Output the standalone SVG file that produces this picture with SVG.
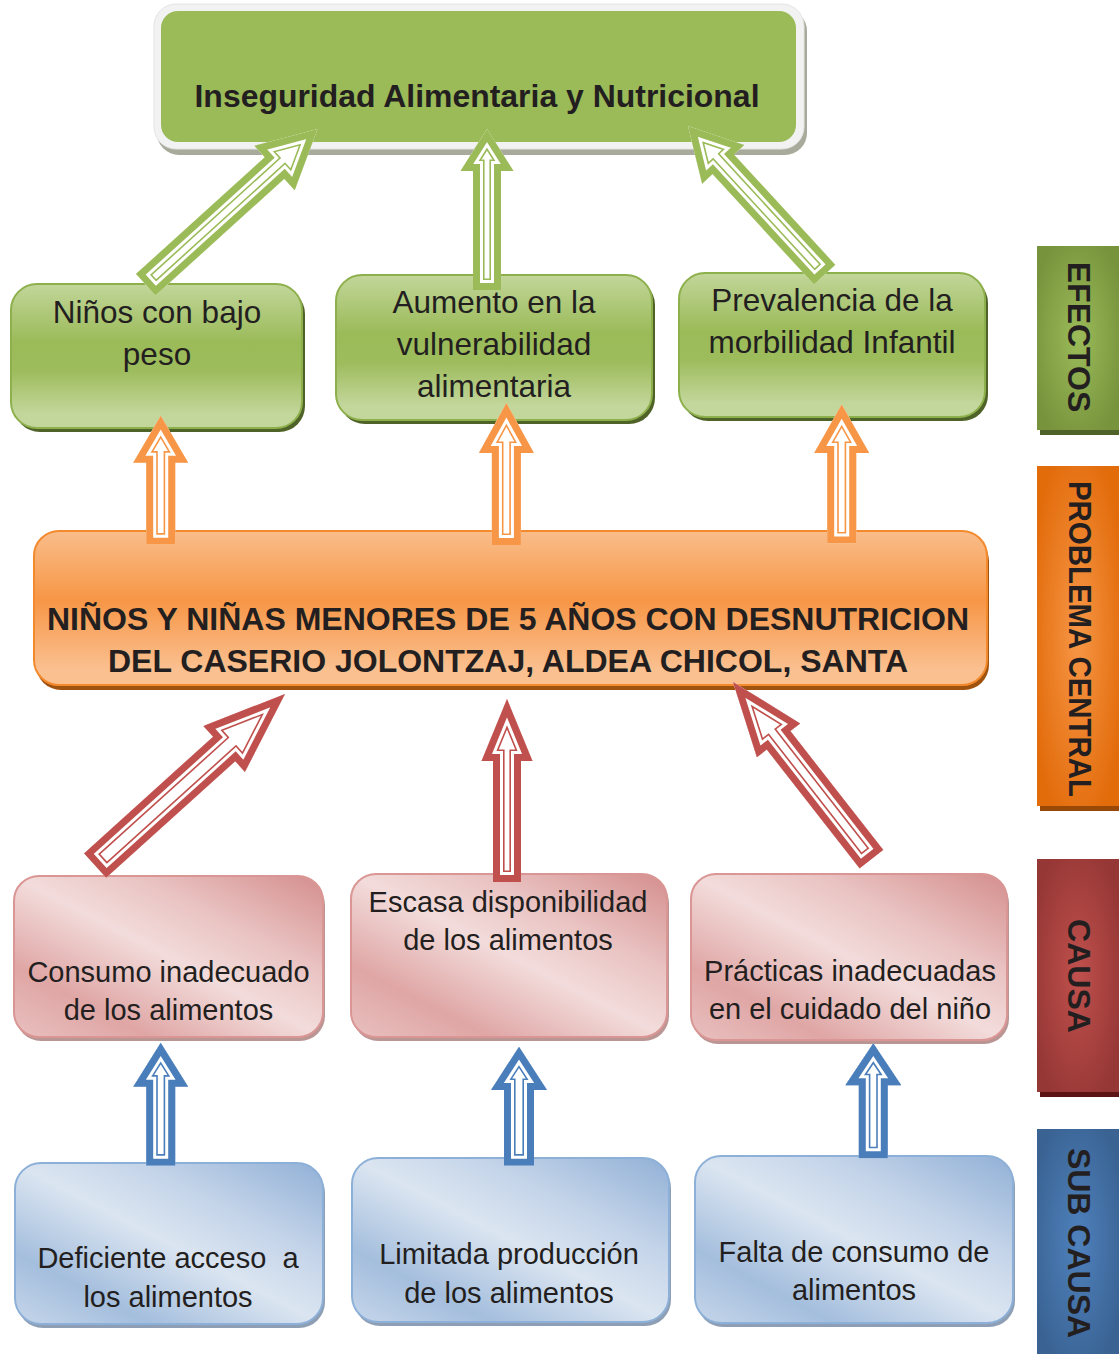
<svg xmlns="http://www.w3.org/2000/svg" xmlns:xlink="http://www.w3.org/1999/xlink" width="1119" height="1354" viewBox="0 0 1119 1354">
<style>
.t{font-family:"Liberation Sans",Arial,sans-serif;fill:#231f20;text-anchor:middle}
.g{font-size:31.5px}
.bold{font-weight:bold;font-size:32px}
.s{font-size:29px}
.a1{fill:#fff;stroke-width:23.2;stroke-miterlimit:10}
.a2{fill:none;stroke:#fff;stroke-width:20;stroke-miterlimit:10}
.a3{fill:none;stroke-width:14;stroke-miterlimit:10}
.cg{stroke:#9bbb59}
.co{stroke:#f79646}
.cr{stroke:#c0504d}
.cb{stroke:#4a7ebb}
</style>
<defs>
<linearGradient id="gG" x1="0" y1="0" x2="0" y2="1">
<stop offset="0" stop-color="#c2d69a"/><stop offset="0.4" stop-color="#9bbb59"/><stop offset="0.6" stop-color="#9dbc5c"/><stop offset="0.9" stop-color="#c3d69b"/><stop offset="1" stop-color="#c3d69b"/>
</linearGradient>
<linearGradient id="gO" x1="0" y1="0" x2="0" y2="1">
<stop offset="0" stop-color="#f9bd8a"/><stop offset="0.45" stop-color="#f79646"/><stop offset="0.6" stop-color="#f8a45f"/><stop offset="0.9" stop-color="#fac090"/><stop offset="1" stop-color="#fac090"/>
</linearGradient>
<linearGradient id="gR" x1="1" y1="0" x2="0" y2="1">
<stop offset="0" stop-color="#d48e8d"/><stop offset="0.3" stop-color="#e9c3c2"/><stop offset="0.5" stop-color="#f2dcdb"/><stop offset="0.78" stop-color="#dfa6a5"/><stop offset="1" stop-color="#e8c0bf"/>
</linearGradient>
<linearGradient id="gB" x1="1" y1="0" x2="0" y2="1">
<stop offset="0" stop-color="#91b0d6"/><stop offset="0.3" stop-color="#c4d4e9"/><stop offset="0.5" stop-color="#dbe5f1"/><stop offset="0.78" stop-color="#a4bedd"/><stop offset="1" stop-color="#c6d6ea"/>
</linearGradient>
<radialGradient id="sG" cx="0.5" cy="0.5" r="0.6"><stop offset="0" stop-color="#9bbb59"/><stop offset="1" stop-color="#77933c"/></radialGradient>
<radialGradient id="sO" cx="0.5" cy="0.5" r="0.6"><stop offset="0" stop-color="#f79646"/><stop offset="1" stop-color="#e26b0a"/></radialGradient>
<radialGradient id="sR" cx="0.5" cy="0.5" r="0.6"><stop offset="0" stop-color="#c0504d"/><stop offset="1" stop-color="#953735"/></radialGradient>
<radialGradient id="sB" cx="0.5" cy="0.5" r="0.6"><stop offset="0" stop-color="#4f81bd"/><stop offset="1" stop-color="#3a6393"/></radialGradient>

<path id="G1" d="M0,0 L30,58 L14.5,58 L14.5,232 L-14.5,232 L-14.5,58 L-30,58 Z"/>
<path id="G2" d="M0,0 L26.5,42 L14,42 L14,161 L-14,161 L-14,42 L-26.5,42 Z"/>
<path id="G3" d="M0,0 L28.6,52 L14.5,52 L14.5,202 L-14.5,202 L-14.5,52 L-28.6,52 Z"/>
<path id="O1" d="M0,0 L27.5,47 L14.5,47 L14.5,129 L-14.5,129 L-14.5,47 L-27.5,47 Z"/>
<path id="O2" d="M0,0 L27.5,50 L14.5,50 L14.5,142 L-14.5,142 L-14.5,50 L-27.5,50 Z"/>
<path id="O3" d="M0,0 L27.5,48.5 L14.5,48.5 L14.5,139 L-14.5,139 L-14.5,48.5 L-27.5,48.5 Z"/>
<path id="R1" d="M0,0 L31,82 L16.5,82 L16.5,256 L-16.5,256 L-16.5,82 L-31,82 Z"/>
<path id="R2" d="M0,0 L25.5,62 L14,62 L14,183 L-14,183 L-14,62 L-25.5,62 Z"/>
<path id="R3" d="M0,0 L27.5,74 L15,74 L15,225 L-15,225 L-15,74 L-27.5,74 Z"/>
<path id="B1" d="M0,0 L27.5,44 L14.5,44 L14.5,123 L-14.5,123 L-14.5,44 L-27.5,44 Z"/>
<path id="B2" d="M0,0 L28,43.3 L15,43.3 L15,119 L-15,119 L-15,43.3 L-28,43.3 Z"/>
<path id="B3" d="M0,0 L28,42 L14.5,42 L14.5,115 L-14.5,115 L-14.5,42 L-28,42 Z"/>
<clipPath id="cG1"><use href="#G1"/></clipPath>
<clipPath id="cG2"><use href="#G2"/></clipPath>
<clipPath id="cG3"><use href="#G3"/></clipPath>
<clipPath id="cO1"><use href="#O1"/></clipPath>
<clipPath id="cO2"><use href="#O2"/></clipPath>
<clipPath id="cO3"><use href="#O3"/></clipPath>
<clipPath id="cR1"><use href="#R1"/></clipPath>
<clipPath id="cR2"><use href="#R2"/></clipPath>
<clipPath id="cR3"><use href="#R3"/></clipPath>
<clipPath id="cB1"><use href="#B1"/></clipPath>
<clipPath id="cB2"><use href="#B2"/></clipPath>
<clipPath id="cB3"><use href="#B3"/></clipPath>
</defs>
<rect width="1119" height="1354" fill="#fff"/>

<g id="nodes">
<g id="top">
<rect x="157" y="9" width="650" height="146" rx="22" fill="#a8ab9b"/>
<rect x="154" y="4" width="650" height="145" rx="22" fill="#f2f2f2" stroke="#e4e4e4" stroke-width="1"/>
<rect x="161" y="11" width="635" height="131" rx="17" fill="#9bbb59"/>
<text class="t bold" x="477" y="107" textLength="565" lengthAdjust="spacingAndGlyphs">Inseguridad Alimentaria y Nutricional</text>
</g>

<g id="ef1">
<rect x="14" y="288" width="291" height="144" rx="26" fill="#4f6228"/>
<rect x="11" y="284" width="291" height="144" rx="26" fill="url(#gG)" stroke="#8db04c" stroke-width="2"/>
<text class="t g" x="157" y="323">Niños con bajo</text>
<text class="t g" x="157" y="365">peso</text>
</g>
<g id="ef2">
<rect x="339" y="279" width="316" height="145" rx="26" fill="#4f6228"/>
<rect x="336" y="275" width="316" height="145" rx="26" fill="url(#gG)" stroke="#8db04c" stroke-width="2"/>
<text class="t g" x="494" y="313">Aumento en la</text>
<text class="t g" x="494" y="355">vulnerabilidad</text>
<text class="t g" x="494" y="397">alimentaria</text>
</g>
<g id="ef3">
<rect x="682" y="277" width="306" height="144" rx="26" fill="#4f6228"/>
<rect x="679" y="273" width="306" height="144" rx="26" fill="url(#gG)" stroke="#8db04c" stroke-width="2"/>
<text class="t g" x="832" y="311">Prevalencia de la</text>
<text class="t g" x="832" y="353">morbilidad Infantil</text>
</g>

<g id="central">
<rect x="36" y="536" width="953" height="154" rx="25" fill="#a0520f"/>
<rect x="34" y="531" width="953" height="154" rx="25" fill="url(#gO)" stroke="#f38a2e" stroke-width="2"/>
<text class="t bold" x="508" y="630">NIÑOS Y NIÑAS MENORES DE 5 AÑOS CON DESNUTRICION</text>
<text class="t bold" x="508" y="672">DEL CASERIO JOLONTZAJ, ALDEA CHICOL, SANTA</text>
</g>

<g id="ca1">
<rect x="16" y="880" width="309" height="161" rx="25" fill="#b99594"/>
<rect x="14" y="876" width="309" height="161" rx="25" fill="url(#gR)" stroke="#d99694" stroke-width="2"/>
<text class="t s" x="168.5" y="982">Consumo inadecuado</text>
<text class="t s" x="168.5" y="1020">de los alimentos</text>
</g>
<g id="ca2">
<rect x="353" y="878" width="316" height="163" rx="25" fill="#b99594"/>
<rect x="351" y="874" width="316" height="163" rx="25" fill="url(#gR)" stroke="#d99694" stroke-width="2"/>
<text class="t s" x="508" y="912">Escasa disponibilidad</text>
<text class="t s" x="508" y="950">de los alimentos</text>
</g>
<g id="ca3">
<rect x="693" y="878" width="316" height="166" rx="25" fill="#b99594"/>
<rect x="691" y="874" width="316" height="166" rx="25" fill="url(#gR)" stroke="#d99694" stroke-width="2"/>
<text class="t s" x="850" y="981">Prácticas inadecuadas</text>
<text class="t s" x="850" y="1019">en el cuidado del niño</text>
</g>

<g id="sc1">
<rect x="17" y="1167" width="308" height="161" rx="26" fill="#8e9fb5"/>
<rect x="15" y="1163" width="308" height="161" rx="26" fill="url(#gB)" stroke="#8db0d8" stroke-width="2"/>
<text class="t s" x="168" y="1268" xml:space="preserve">Deficiente acceso  a</text>
<text class="t s" x="168" y="1307">los alimentos</text>
</g>
<g id="sc2">
<rect x="354" y="1162" width="317" height="164" rx="26" fill="#8e9fb5"/>
<rect x="352" y="1158" width="317" height="164" rx="26" fill="url(#gB)" stroke="#8db0d8" stroke-width="2"/>
<text class="t s" x="509" y="1264">Limitada producción</text>
<text class="t s" x="509" y="1303">de los alimentos</text>
</g>
<g id="sc3">
<rect x="697" y="1160" width="318" height="167" rx="26" fill="#8e9fb5"/>
<rect x="695" y="1156" width="318" height="167" rx="26" fill="url(#gB)" stroke="#8db0d8" stroke-width="2"/>
<text class="t s" x="854" y="1262">Falta de consumo de</text>
<text class="t s" x="854" y="1300">alimentos</text>
</g>

<g id="lbl-efectos">
<rect x="1040" y="251" width="82" height="184" fill="#4f6228"/>
<rect x="1037" y="246" width="82" height="184" fill="url(#sG)"/>
<text class="t bold" transform="translate(1068,337) rotate(90)">EFECTOS</text>
</g>
<g id="lbl-problema">
<rect x="1040" y="471" width="82" height="340" fill="#984807"/>
<rect x="1037" y="466" width="82" height="340" fill="url(#sO)"/>
<text class="t bold" transform="translate(1069,639) rotate(90)" textLength="316" lengthAdjust="spacingAndGlyphs">PROBLEMA CENTRAL</text>
</g>
<g id="lbl-causa">
<rect x="1040" y="864" width="82" height="233" fill="#5c1414"/>
<rect x="1037" y="859" width="82" height="233" fill="url(#sR)"/>
<text class="t bold" transform="translate(1068,976) rotate(90)">CAUSA</text>
</g>
<g id="lbl-subcausa">
<rect x="1037" y="1129" width="82" height="225" fill="url(#sB)"/>
<text class="t bold" transform="translate(1068,1243) rotate(90)">SUB CAUSA</text>
</g>
</g>

<g id="connectors">
<g transform="translate(317.5,129) rotate(47.8)"><g clip-path="url(#cG1)"><use href="#G1" class="a1 cg"/><use href="#G1" class="a2"/><use href="#G1" class="a3 cg"/></g></g>
<g transform="translate(487,129)"><g clip-path="url(#cG2)"><use href="#G2" class="a1 cg"/><use href="#G2" class="a2"/><use href="#G2" class="a3 cg"/></g></g>
<g transform="translate(688,126) rotate(-42.6)"><g clip-path="url(#cG3)"><use href="#G3" class="a1 cg"/><use href="#G3" class="a2"/><use href="#G3" class="a3 cg"/></g></g>

<g transform="translate(160.7,415.7)"><g clip-path="url(#cO1)"><use href="#O1" class="a1 co"/><use href="#O1" class="a2"/><use href="#O1" class="a3 co"/></g></g>
<g transform="translate(506.4,403)"><g clip-path="url(#cO2)"><use href="#O2" class="a1 co"/><use href="#O2" class="a2"/><use href="#O2" class="a3 co"/></g></g>
<g transform="translate(841.7,404.5)"><g clip-path="url(#cO3)"><use href="#O3" class="a1 co"/><use href="#O3" class="a2"/><use href="#O3" class="a3 co"/></g></g>

<g transform="translate(285,694) rotate(47.9)"><g clip-path="url(#cR1)"><use href="#R1" class="a1 cr"/><use href="#R1" class="a2"/><use href="#R1" class="a3 cr"/></g></g>
<g transform="translate(507,699)"><g clip-path="url(#cR2)"><use href="#R2" class="a1 cr"/><use href="#R2" class="a2"/><use href="#R2" class="a3 cr"/></g></g>
<g transform="translate(733,682) rotate(-38)"><g clip-path="url(#cR3)"><use href="#R3" class="a1 cr"/><use href="#R3" class="a2"/><use href="#R3" class="a3 cr"/></g></g>

<g transform="translate(160.7,1042.7)"><g clip-path="url(#cB1)"><use href="#B1" class="a1 cb"/><use href="#B1" class="a2"/><use href="#B1" class="a3 cb"/></g></g>
<g transform="translate(519,1046.7)"><g clip-path="url(#cB2)"><use href="#B2" class="a1 cb"/><use href="#B2" class="a2"/><use href="#B2" class="a3 cb"/></g></g>
<g transform="translate(873.3,1043.3)"><g clip-path="url(#cB3)"><use href="#B3" class="a1 cb"/><use href="#B3" class="a2"/><use href="#B3" class="a3 cb"/></g></g>
</g>
</svg>
